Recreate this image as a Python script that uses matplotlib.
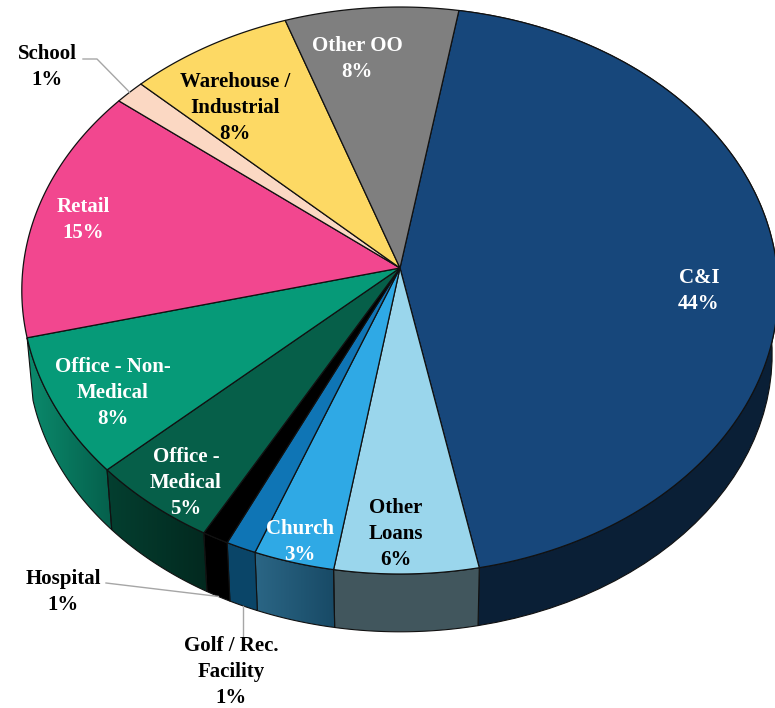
import matplotlib
matplotlib.use("Agg")
import matplotlib.pyplot as plt
from matplotlib.colors import to_rgb
import numpy as np

categories = ["C&I", "Other\nLoans", "Church", "Golf / Rec.\nFacility", "Hospital", "Office -\nMedical",
              "Office - Non-\nMedical", "Retail", "School", "Warehouse /\nIndustrial", "Other OO"]
# estimated from the rim, the printed labels are these rounded
values = [44.2, 5.7, 3.2, 1.2, 1.05, 5.1, 7.95, 14.6, 1.4, 7.6, 8.0]
top_colors = ["#17477B", "#9AD6EC", "#2FA9E5", "#0F75B5", "#000000", "#065F49",
              "#069A78", "#F2478F", "#FBD8C3", "#FDD964", "#7F7F7F"]
# only the slices at the front show a wall, shaded from its right end to its left end
side_right = ["#0A1F36", "#41565D", "#184A66", "#0A4568", "#000000", "#02291F",
              "#05604C", None, None, None, None]
side_left = ["#0A1F36", "#41565D", "#2B6685", "#0A4568", "#000000", "#043F30",
             "#0B8A6C", None, None, None, None]
label_colors = ["white", "black", "white", "black", "black", "white",
                "white", "white", "black", "black", "white"]
label_xy = [(699, 291), (396, 534), (300, 542), (231, 672), (63, 592), (186, 483),
            (113, 393), (83, 220), (47, 67), (235, 108), (357, 59)]

START_DEG = 9.7
APEX_X, APEX_Y = 400, 268
TILT = 0.0794


def project(theta, scale_x=377.0, scale_y=281.7, origin_y=APEX_Y):
    # clockwise angle from the far side of the disc, with a little perspective
    u, v = np.sin(theta), np.cos(theta)
    w = 1 + TILT * v
    return APEX_X + scale_x * u / w, origin_y - scale_y * v / w


def project_bottom(theta):
    return project(theta, scale_x=371.0, scale_y=276.0, origin_y=332)


fig = plt.figure(figsize=(7.75, 7.08), dpi=100)
ax = fig.add_axes([0, 0, 1, 1])

edges = np.radians(START_DEG + np.concatenate([[0], np.cumsum(values)]) * 3.6)

# side walls first, the top faces cover whatever is at the back
for i in range(len(values)):
    if side_right[i] is None:
        continue
    t = np.linspace(edges[i], edges[i + 1], 60)
    x1, y1 = project(t)
    x2, y2 = project_bottom(t[::-1])
    x = np.concatenate([x1, x2])
    y = np.concatenate([y1, y2])
    patch = ax.fill(x, y, facecolor=side_right[i], edgecolor="#111111", linewidth=0.8, zorder=1.2)[0]
    if side_left[i] != side_right[i]:
        patch.set_facecolor("none")
        shade = np.linspace(to_rgb(side_left[i]), to_rgb(side_right[i]), 64)[np.newaxis, :, :]
        im = ax.imshow(shade, extent=(x.min(), x.max(), y.max(), y.min()), aspect="auto", zorder=1)
        im.set_clip_path(patch)

for i in range(len(values)):
    t = np.linspace(edges[i], edges[i + 1], 120)
    x1, y1 = project(t)
    ax.fill(np.concatenate([[APEX_X], x1]), np.concatenate([[APEX_Y], y1]), facecolor=top_colors[i],
            edgecolor="#111111", linewidth=0.9, zorder=2)

# leader lines for the small slices
mids = (edges[:-1] + edges[1:]) / 2
school = categories.index("School")
sx, sy = project(mids[school])
ax.plot([83, 97, sx], [59, 59, sy], color="#A6A6A6", linewidth=1, zorder=3)
hosp = categories.index("Hospital")
hx, hy = project_bottom(mids[hosp])
ax.plot([106, hx], [583, hy], color="#A6A6A6", linewidth=1, zorder=3)
golf = categories.index("Golf / Rec.\nFacility")
gx, gy = project_bottom(mids[golf])
ax.plot([gx, gx], [641, gy], color="#A6A6A6", linewidth=1, zorder=3)

for i in range(len(values)):
    x, y = label_xy[i]
    ax.text(x, y, "%s\n%d%%" % (categories[i], round(values[i])), color=label_colors[i],
            ha="center", va="center", family="Liberation Serif", weight="bold", fontsize=15,
            linespacing=1.4, zorder=4)

ax.set_xlim(0, 775)
ax.set_ylim(708, 0)
ax.axis("off")

fig.savefig("out.png", dpi=100)
